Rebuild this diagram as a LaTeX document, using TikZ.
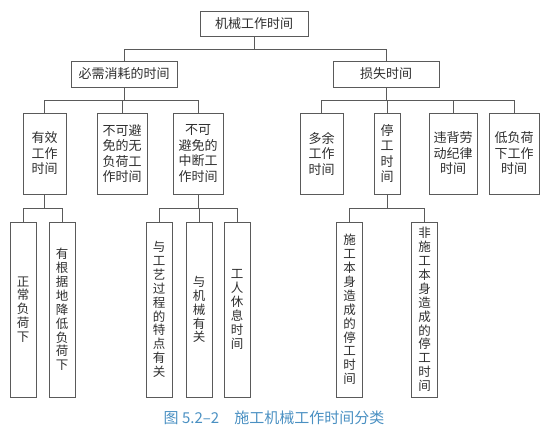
\documentclass[tikz,border=0pt]{standalone}
\usepackage{fontspec}
\usepackage{tikz}
\usetikzlibrary{calc}
\newfontfamily\cjk{Noto Sans CJK SC}
\definecolor{linegray}{HTML}{5A5A5A}
\definecolor{textgray}{HTML}{2E2E2E}
\definecolor{capblue}{HTML}{4A90C2}

\begin{document}
\begin{tikzpicture}[
  x=1pt, y=-1pt,
  font=\cjk\fontsize{13}{15.5}\selectfont,
  box/.style={rectangle, draw=linegray, line width=0.8pt, text=textgray,
              inner sep=0pt, align=center},
  wide/.style={box, minimum width=106pt, minimum height=26pt},
  tall/.style={box, minimum width=#1, minimum height=81pt},
  slim/.style={box, minimum width=26pt, minimum height=175pt,
               font=\cjk\fontsize{12.5}{13.9}\selectfont},
  link/.style={draw=linegray, line width=0.8pt},
  capt/.style={font=\cjk\fontsize{15}{18}\selectfont, text=capblue}
]
  \useasboundingbox (0,0) rectangle (545,434);

  \node[box, minimum width=108pt, minimum height=25pt] (root) at (254,23.5) {机械工作时间};
  \node[wide] (need) at (124,74) {必需消耗的时间};
  \node[wide] (loss) at (386,74) {损失时间};

  % second row
  \node[tall=43pt] (eff)   at (44.5,153.5)  {有效\\工作\\时间};
  \node[tall=50pt] (idle)  at (122,153.5)   {不可避\\免的无\\负荷工\\作时间};
  \node[tall=50pt] (brk)   at (198,153.5)   {不可\\避免的\\中断工\\作时间};
  \node[tall=43pt] (extra) at (321.5,153.5) {多余\\工作\\时间};
  \node[tall=26pt] (stop)  at (387,153.5)   {停\\工\\时\\间};
  \node[tall=48pt] (disc)  at (453,153.5)   {违背劳\\动纪律\\时间};
  \node[tall=50pt] (low)   at (514,153.5)   {低负荷\\下工作\\时间};

  % third row
  \node[slim] (norm)  at (23,309.5)    {正\\常\\负\\荷\\下};
  \node[slim] (redu)  at (62,309.5)    {有\\根\\据\\地\\降\\低\\负\\荷\\下};
  \node[slim] (proc)  at (159,309.5)   {与\\工\\艺\\过\\程\\的\\特\\点\\有\\关};
  \node[slim] (mach)  at (199,309.5)   {与\\机\\械\\有\\关};
  \node[slim] (rest)  at (237,309.5)   {工\\人\\休\\息\\时\\间};
  \node[slim] (self)  at (349.5,309.5) {施\\工\\本\\身\\造\\成\\的\\停\\工\\时\\间};
  \node[slim] (other) at (424.5,309.5) {非\\施\\工\\本\\身\\造\\成\\的\\停\\工\\时\\间};

  \node[capt] (cap) at (274,418) {图 5.2–2\quad 施工机械工作时间分类};

  \foreach \c in {need,loss}
    \draw[link] (root.south) -- ++(0,12.5) -| (\c.north);
  \foreach \c in {eff,idle,brk}
    \draw[link] (need.south) -- ++(0,13) -| (\c.north);
  \foreach \c in {extra,stop,disc,low}
    \draw[link] (loss.south) -- ++(0,13) -| (\c.north);
  \foreach \c in {norm,redu}
    \draw[link] (eff.south) -- ++(0,13.5) -| (\c.north);
  \foreach \c in {proc,mach,rest}
    \draw[link] (brk.south) -- ++(0,13.5) -| (\c.north);
  \foreach \c in {self,other}
    \draw[link] (stop.south) -- ++(0,13.5) -| (\c.north);
\end{tikzpicture}
\end{document}
